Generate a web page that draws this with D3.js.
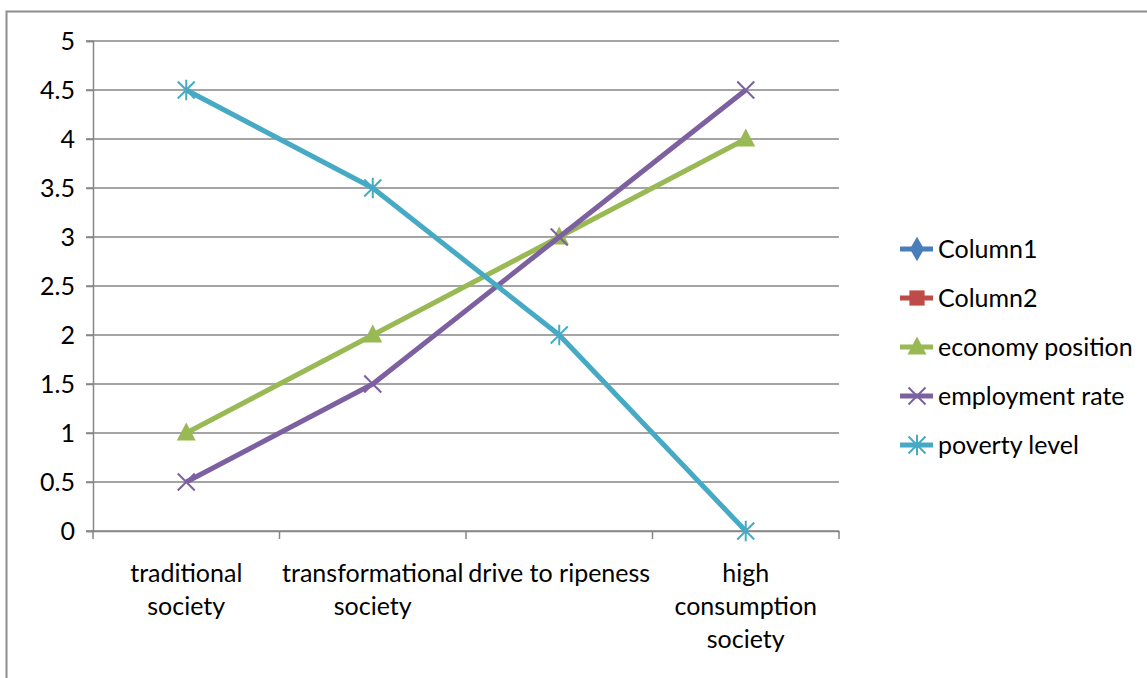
<!DOCTYPE html>
<html>
<head>
<meta charset="utf-8">
<script src="https://cdn.jsdelivr.net/npm/d3@7"></script>
<style>
  body { margin: 0; background: #fff; }
  svg { display: block; font-family: Lato, "Liberation Sans", sans-serif; }
</style>
</head>
<body>
<svg id="chart" width="1147" height="678"></svg>
<script>
'use strict';

// categories along the x axis (each label split in lines)
var categories = ['traditional society', 'transformational society', 'drive to ripeness', 'high consumption society'];
var categoryLines = [['traditional', 'society'], ['transformational', 'society'], ['drive to ripeness'], ['high', 'consumption', 'society']];

// series values
var column1 = [];
var column2 = [];
var economyPosition = [1, 2, 3, 4];
var employmentRate = [0.5, 1.5, 3, 4.5];
var povertyLevel = [4.5, 3.5, 2, 0];

var yTicks = [0, 0.5, 1, 1.5, 2, 2.5, 3, 3.5, 4, 4.5, 5];

var series = [
  {key: 'Column1', values: column1, color: '#4a7ebb', marker: 'diamond'},
  {key: 'Column2', values: column2, color: '#be4b48', marker: 'square'},
  {key: 'economy position', values: economyPosition, color: '#98b954', marker: 'triangle'},
  {key: 'employment rate', values: employmentRate, color: '#7d60a0', marker: 'x'},
  {key: 'poverty level', values: povertyLevel, color: '#46aac5', marker: 'star'}
];

var svg = d3.select('#chart');
var plotLeft = 93, plotRight = 839, plotTop = 41, plotBottom = 531;
var fontSize = 25;

// chart border
svg.append('path')
  .attr('d', 'M6.5,700V11.5H1150')
  .attr('fill', 'none')
  .attr('stroke', '#8c8c8c')
  .attr('stroke-width', 2);

var x = d3.scaleBand().domain(categories).range([plotLeft, plotRight]);
var y = d3.scaleLinear().domain([0, 5]).range([plotBottom, plotTop]);

// gridlines
svg.append('g').selectAll('line').data(yTicks).enter().append('line')
  .attr('x1', plotLeft - 7).attr('x2', plotRight)
  .attr('y1', function(d) { return y(d); }).attr('y2', function(d) { return y(d); })
  .attr('stroke', '#868686').attr('stroke-width', 1.5);

// y axis
var yAxis = svg.append('g').attr('transform', 'translate(' + plotLeft + ',0)')
  .call(d3.axisLeft(y).tickValues(yTicks).tickSize(7).tickPadding(11).tickFormat(d3.format('')));
yAxis.select('.domain').attr('stroke', '#868686').attr('stroke-width', 1.5);
yAxis.selectAll('.tick line').attr('stroke', '#868686').attr('stroke-width', 1.5);
yAxis.attr('font-family', null).attr('font-size', fontSize);
yAxis.selectAll('text').attr('fill', '#000');

// x axis
var xAxis = svg.append('g').attr('transform', 'translate(0,' + plotBottom + ')')
  .call(d3.axisBottom(x).tickSize(0).tickFormat(''));
xAxis.select('.domain').attr('stroke', '#868686').attr('stroke-width', 1.5);
var xEdges = x.domain().map(function(c) { return x(c); }).concat([plotRight]);
svg.append('g').selectAll('line').data(xEdges).enter().append('line')
  .attr('x1', function(d) { return d; }).attr('x2', function(d) { return d; })
  .attr('y1', plotBottom).attr('y2', plotBottom + 8)
  .attr('stroke', '#868686').attr('stroke-width', 1.5);

svg.append('g').selectAll('text').data(categories).enter().append('text')
  .attr('x', function(d) { return x(d) + x.bandwidth() / 2; })
  .attr('y', 582)
  .attr('text-anchor', 'middle')
  .attr('font-size', fontSize)
  .each(function(d, i) {
    d3.select(this).selectAll('tspan').data(categoryLines[i]).enter().append('tspan')
      .attr('x', x(d) + x.bandwidth() / 2)
      .attr('dy', function(t, j) { return j === 0 ? 0 : 33; })
      .text(function(t) { return t; });
  });

function markerPath(type, s) {
  if (type === 'diamond') return d3.symbol(d3.symbolDiamond, s * s * 0.6)();
  if (type === 'square') return d3.symbol(d3.symbolSquare, s * s * 0.8)();
  if (type === 'triangle') return 'M0,' + (-s * 0.55) + 'L' + (s * 0.5) + ',' + (s * 0.4) + 'L' + (-s * 0.5) + ',' + (s * 0.4) + 'Z';
  var h = s / 2;
  if (type === 'x') return 'M' + -h + ',' + -h + 'L' + h + ',' + h + 'M' + -h + ',' + h + 'L' + h + ',' + -h;
  return 'M' + -h + ',' + -h + 'L' + h + ',' + h + 'M' + -h + ',' + h + 'L' + h + ',' + -h + 'M0,' + -h * 1.2 + 'V' + h * 1.2;
}

var line = d3.line()
  .x(function(d, i) { return x(categories[i]) + x.bandwidth() / 2; })
  .y(function(d) { return y(d); });

series.forEach(function(s) {
  if (!s.values.length) return;
  svg.append('path').datum(s.values)
    .attr('d', line)
    .attr('fill', 'none')
    .attr('stroke', s.color)
    .attr('stroke-width', 5)
    .attr('stroke-linejoin', 'round');
  svg.append('g').selectAll('path').data(s.values).enter().append('path')
    .attr('transform', function(d, i) { return 'translate(' + (x(categories[i]) + x.bandwidth() / 2) + ',' + y(d) + ')'; })
    .attr('d', markerPath(s.marker, s.marker === 'triangle' ? 19 : 17))
    .attr('fill', s.marker === 'x' || s.marker === 'star' ? 'none' : s.color)
    .attr('stroke', s.color)
    .attr('stroke-width', s.marker === 'x' || s.marker === 'star' ? 2 : 0);
});

// legend
var legend = svg.append('g').selectAll('g').data(series).enter().append('g')
  .attr('transform', function(d, i) { return 'translate(900,' + (249 + i * 49) + ')'; });
legend.append('line')
  .attr('x1', 0).attr('x2', 33)
  .attr('stroke', function(d) { return d.color; })
  .attr('stroke-width', 5);
legend.append('path')
  .attr('transform', 'translate(17,0)')
  .attr('d', function(d) { return markerPath(d.marker, d.marker === 'triangle' ? 19 : 17); })
  .attr('fill', function(d) { return d.marker === 'x' || d.marker === 'star' ? 'none' : d.color; })
  .attr('stroke', function(d) { return d.color; })
  .attr('stroke-width', function(d) { return d.marker === 'x' || d.marker === 'star' ? 2 : 0; });
legend.append('text')
  .attr('x', 38).attr('dy', '0.35em')
  .attr('font-size', fontSize)
  .text(function(d) { return d.key; });
</script>
</body>
</html>
